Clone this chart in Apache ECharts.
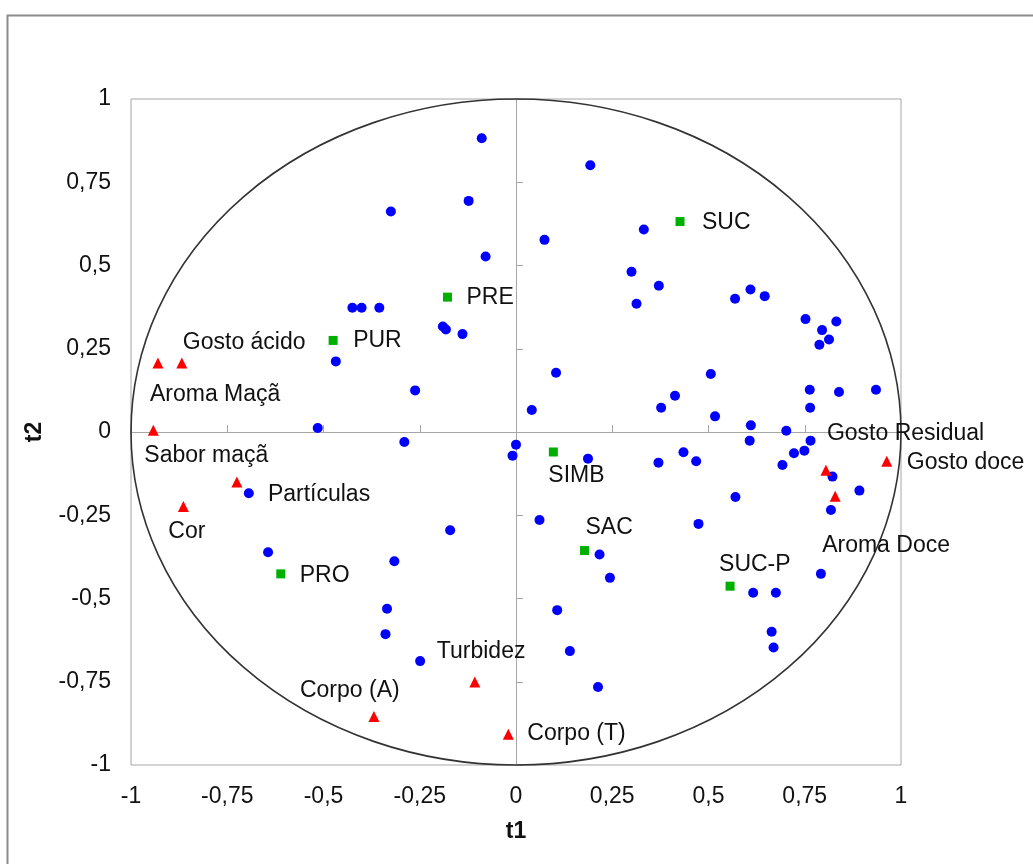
<!DOCTYPE html>
<html>
<head>
<meta charset="utf-8">
<script src="https://cdn.jsdelivr.net/npm/echarts@6/dist/echarts.min.js"></script>
<style>
  html, body { margin: 0; padding: 0; background: #fff; }
  #chart { width: 1033px; height: 864px; }
</style>
</head>
<body>
<div id="chart"></div>
<script>
// ticks
const axisMin = -1, axisMax = 1, axisStep = 0.25;

// amostras (scores)
const samplePoints = [
  [-0.089, 0.882], [-0.123, 0.694], [-0.325, 0.662], [-0.079, 0.527],
  [-0.425, 0.373], [-0.401, 0.373], [-0.355, 0.373], [-0.190, 0.317],
  [-0.182, 0.308], [-0.139, 0.294], [-0.468, 0.212], [-0.262, 0.125],
  [-0.515, 0.012], [0.193, 0.801], [0.074, 0.577], [0.332, 0.608],
  [0.300, 0.481], [0.371, 0.439], [0.313, 0.385], [0.569, 0.400],
  [0.609, 0.428], [0.646, 0.408], [0.752, 0.339], [0.832, 0.332],
  [0.795, 0.306], [0.813, 0.278], [0.788, 0.262], [0.104, 0.178],
  [0.506, 0.174], [0.041, 0.066], [0.413, 0.109], [0.377, 0.073],
  [0.517, 0.047], [0.763, 0.127], [0.839, 0.120], [0.935, 0.127],
  [0.764, 0.073], [0.610, 0.020], [0.702, 0.004], [0.000, -0.038],
  [-0.009, -0.071], [0.187, -0.080], [0.370, -0.092], [0.435, -0.061],
  [0.468, -0.088], [0.607, -0.026], [0.765, -0.026], [0.749, -0.056],
  [0.722, -0.064], [0.692, -0.099], [0.822, -0.134], [0.892, -0.176],
  [0.818, -0.234], [0.570, -0.195], [0.061, -0.264], [0.474, -0.276],
  [0.217, -0.368], [0.244, -0.438], [0.616, -0.483], [0.675, -0.483],
  [0.792, -0.426], [0.107, -0.535], [0.664, -0.600], [0.669, -0.647],
  [0.140, -0.658], [0.213, -0.766], [-0.290, -0.030], [-0.694, -0.184],
  [-0.171, -0.295], [-0.316, -0.388], [-0.644, -0.361], [-0.335, -0.531],
  [-0.339, -0.607], [-0.249, -0.688]
];

// atributos sensoriais (loadings)
const attrNames = ['Gosto ácido', 'Aroma Maçã', 'Sabor maçã', 'Partículas', 'Cor', 'Turbidez',
  'Corpo (A)', 'Corpo (T)', 'Gosto Residual', 'Gosto doce', 'Aroma Doce'];
const attrPoints = [
  [-0.868, 0.207], [-0.930, 0.207], [-0.942, 0.005], [-0.725, -0.150], [-0.864, -0.224],
  [-0.107, -0.751], [-0.369, -0.854], [-0.020, -0.908], [0.805, -0.115], [0.963, -0.088],
  [0.829, -0.193]
];

// edulcorantes
const sweetNames = ['PRE', 'PUR', 'SUC', 'SIMB', 'SAC', 'SUC-P', 'PRO'];
const sweetPoints = [
  [-0.178, 0.405], [-0.475, 0.275], [0.426, 0.632], [0.097, -0.060],
  [0.178, -0.356], [0.556, -0.463], [-0.611, -0.426]
];

// label placement (pixel offsets from marker)
const labelOffset = {
  'Gosto ácido': [1, -20], 'Aroma Maçã': [-8, 32], 'Sabor maçã': [-9, 25],
  'Partículas': [31, 13], 'Cor': [-15, 25], 'Turbidez': [-38, -30],
  'Corpo (A)': [-74, -26], 'Corpo (T)': [19, -1], 'Gosto Residual': [1, -37],
  'Gosto doce': [20, 1], 'Aroma Doce': [-13, 49],
  'PRE': [19, 1], 'PUR': [20, 0], 'SUC': [22, 1], 'SIMB': [-5, 24],
  'SAC': [1, -23], 'SUC-P': [-11, -22], 'PRO': [19, 2]
};

const FONT = 'Arial, "Liberation Sans", sans-serif';
const TXT = '#111';
const fmt = v => String(v).replace('.', ',');

const labelled = (names, pts) => pts.map((p, i) => ({
  name: names[i],
  value: p,
  label: {
    show: true, position: 'inside', align: 'left', verticalAlign: 'middle',
    formatter: '{b}', offset: labelOffset[names[i]],
    fontSize: 23, fontFamily: FONT, color: TXT
  }
}));

const chart = echarts.init(document.getElementById('chart'));

const baseAxis = {
  type: 'value', min: axisMin, max: axisMax, interval: axisStep,
  splitLine: { show: false }
};

chart.setOption({
  animation: false,
  backgroundColor: '#fff',
  grid: { left: 131, top: 99, width: 770, height: 666, show: true, borderColor: '#a6a6a6', borderWidth: 1 },
  xAxis: [
    Object.assign({}, baseAxis, {
      position: 'bottom',
      axisLine: { show: false, onZero: false },
      axisTick: { show: false },
      axisLabel: { margin: 20, fontSize: 23, fontFamily: FONT, color: TXT, formatter: fmt }
    }),
    Object.assign({}, baseAxis, {
      position: 'top',
      axisLine: { show: true, onZero: true, lineStyle: { color: '#a6a6a6', width: 1 } },
      axisTick: { show: true, length: 7, lineStyle: { color: '#a6a6a6' } },
      axisLabel: { show: false }
    })
  ],
  yAxis: [
    Object.assign({}, baseAxis, {
      position: 'left',
      axisLine: { show: false, onZero: false },
      axisTick: { show: false },
      axisLabel: { margin: 20, fontSize: 23, fontFamily: FONT, color: TXT, formatter: fmt }
    }),
    Object.assign({}, baseAxis, {
      position: 'right',
      axisLine: { show: true, onZero: true, lineStyle: { color: '#a6a6a6', width: 1 } },
      axisTick: { show: true, length: 7, lineStyle: { color: '#a6a6a6' } },
      axisLabel: { show: false }
    })
  ],
  graphic: [
    { type: 'rect', left: 5, top: 13, shape: { width: 1100, height: 900 },
      style: { fill: 'none', stroke: '#8c8c8c', lineWidth: 2 }, silent: true },
    { type: 'text', x: 516, y: 832, style: { text: 't1', font: 'bold 23px ' + FONT, fill: TXT, textAlign: 'center', textVerticalAlign: 'middle' } },
    { type: 'text', x: 35, y: 432, rotation: Math.PI / 2, style: { text: 't2', font: 'bold 23px ' + FONT, fill: TXT, textAlign: 'center', textVerticalAlign: 'middle' } }
  ],
  series: [
    {
      // unit circle
      type: 'custom', z: 1, silent: true,
      data: [[0, 0]],
      renderItem: (params, api) => {
        const tl = api.coord([axisMin, axisMax]);
        const br = api.coord([axisMax, axisMin]);
        const cx = (tl[0] + br[0]) / 2, cy = (tl[1] + br[1]) / 2;
        const rx = (br[0] - tl[0]) / 2, ry = (br[1] - tl[1]) / 2;
        return {
          type: 'path',
          shape: {
            pathData: `M ${cx - rx} ${cy} A ${rx} ${ry} 0 1 0 ${cx + rx} ${cy} A ${rx} ${ry} 0 1 0 ${cx - rx} ${cy} Z`
          },
          style: { fill: 'none', stroke: '#333', lineWidth: 1.6 }
        };
      }
    },
    {
      type: 'scatter', z: 3, symbol: 'circle', symbolSize: 10,
      itemStyle: { color: '#0000ff', opacity: 1 },
      data: samplePoints
    },
    {
      type: 'scatter', z: 4, symbol: 'triangle', symbolSize: 11,
      itemStyle: { color: '#ff0000', opacity: 1 },
      data: labelled(attrNames, attrPoints)
    },
    {
      type: 'scatter', z: 4, symbol: 'rect', symbolSize: 9,
      itemStyle: { color: '#00b000', opacity: 1 },
      data: labelled(sweetNames, sweetPoints)
    }
  ]
});
</script>
</body>
</html>
